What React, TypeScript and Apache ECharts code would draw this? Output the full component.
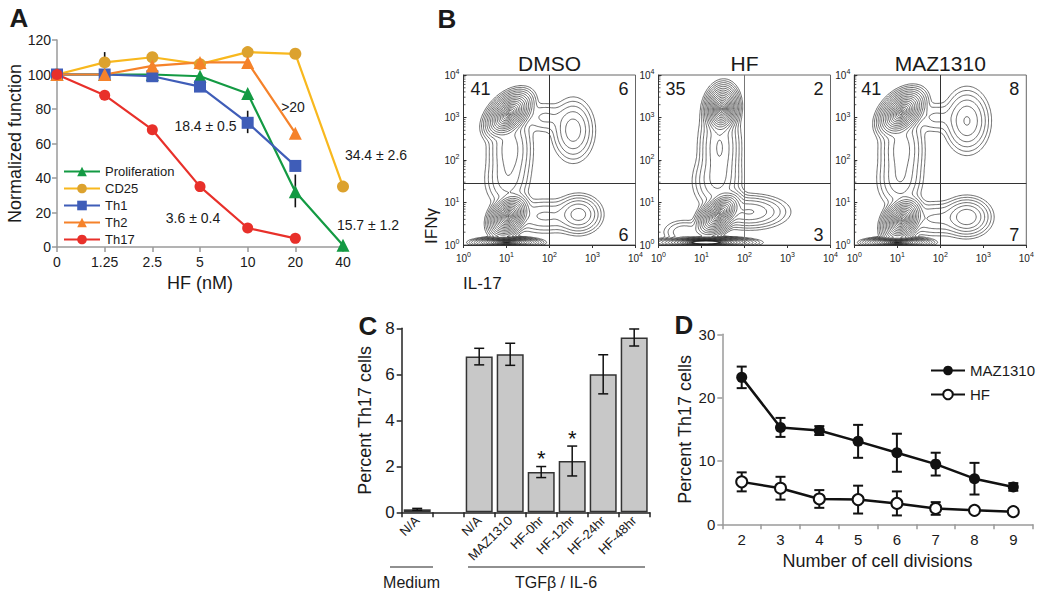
import React, { useEffect, useRef } from 'react';
import * as echarts from 'echarts';

const FONT = '"Liberation Sans", Arial, Helvetica, sans-serif';

// ---------- Panel A ----------
const aDoses = ['0', '1.25', '2.5', '5', '10', '20', '40'];
const aProliferation = [100, 100, 100, 99, 89, 32, 1];
const aCD25 = [100, 107, 110, 106, 113, 112, 35];
const aTh1 = [100, 100, 99, 93, 72, 47, null];
const aTh2 = [100, 100, 105, 107, 107, 66, null];
const aTh17 = [100, 88, 68, 35, 11, 5, null];
// [dose index, low, high]
const aErrors = [[0, 97, 103], [1, 106, 113], [4, 66, 79], [5, 23, 42]];

// ---------- Panel B ----------
const bTitles = ['DMSO', 'HF', 'MAZ1310'];
const bQuadrants = [[41, 6, 6], [35, 2, 3], [41, 8, 7]]; // upper-left, upper-right, lower-right
const bGateIL17 = 100;
const bGateIFNg = 28;
const bMinorMultipliers = [2, 3, 4, 5, 6, 7, 8, 9];
// cell populations: [log10 IL-17, log10 IFNg, spread x, spread y, correlation, relative density]
const bPopDMSO = [
  [1.05, 3.08, 0.18, 0.18, 0.45, 1.0],
  [1.08, 2.25, 0.21, 0.42, 0, 0.03],
  [1.0, 1.5, 0.22, 0.28, 0, 0.012],
  [1.9, 3.0, 0.25, 0.17, 0, 0.006],
  [1.04, 0.68, 0.15, 0.16, 0.3, 1.0],
  [1.9, 0.68, 0.38, 0.18, 0, 0.012],
  [2.68, 0.72, 0.21, 0.18, 0, 0.05],
  [2.55, 2.7, 0.2, 0.3, 0, 0.03],
  [1.0, 0.06, 0.25, 0.04, 0, 1.0],
];
const bPopHF = [
  [1.47, 3.2, 0.13, 0.19, 0.1, 1.0],
  [1.42, 2.3, 0.19, 0.45, 0, 0.04],
  [1.35, 1.5, 0.23, 0.28, 0, 0.02],
  [1.4, 0.72, 0.17, 0.17, 0.5, 1.0],
  [2.1, 0.78, 0.36, 0.16, 0, 0.04],
  [0.6, 0.3, 0.22, 0.13, 0, 0.01],
  [1.1, 0.06, 0.35, 0.04, 0, 1.5],
];
const bPopMAZ = [
  [1.1, 3.12, 0.18, 0.18, 0.4, 1.0],
  [1.1, 2.25, 0.21, 0.42, 0, 0.03],
  [1.05, 1.5, 0.22, 0.28, 0, 0.015],
  [1.9, 3.0, 0.25, 0.17, 0, 0.006],
  [1.1, 0.58, 0.15, 0.17, 0.3, 1.0],
  [1.9, 0.62, 0.38, 0.18, 0, 0.012],
  [2.62, 0.66, 0.22, 0.18, 0, 0.06],
  [2.62, 2.92, 0.21, 0.3, 0, 0.04],
  [1.0, 0.06, 0.25, 0.04, 0, 1.0],
];

// ---------- Panel C ----------
const cCategories = ['N/A', '', 'N/A', 'MAZ1310', 'HF-0hr', 'HF-12hr', 'HF-24hr', 'HF-48hr'];
const cValues = [0.13, null, 6.77, 6.87, 1.75, 2.23, 6.0, 7.6];
const cErrors = [0.04, null, 0.36, 0.48, 0.24, 0.65, 0.85, 0.37];
const cSignificant = [false, false, false, false, true, true, false, false];

// ---------- Panel D ----------
const dDivisions = ['2', '3', '4', '5', '6', '7', '8', '9'];
const dMAZ = [23.2, 15.3, 14.8, 13.1, 11.3, 9.5, 7.2, 5.9];
const dMAZErr = [1.7, 1.5, 0.7, 2.6, 3.0, 1.8, 2.5, 0.6];
const dHF = [6.7, 5.7, 4.0, 3.9, 3.3, 2.5, 2.2, 2.0];
const dHFErr = [1.5, 1.8, 1.4, 2.2, 1.9, 1.0, 0.3, 0.2];

const txt = (text: string, x: number, y: number, size: number, extra: any = {}) => ({
  type: 'text',
  x,
  y,
  silent: true,
  ...extra,
  style: {
    text,
    fill: '#1a1a1a',
    font: `${extra.weight || 'normal'} ${size}px ${FONT}`,
    align: extra.align || 'center',
    verticalAlign: 'middle',
  },
});

const errorBar = (cap: number, width: number, withStar = false) => (params: any, api: any) => {
  const x = api.value(0);
  const lo = api.coord([x, api.value(1)]);
  const hi = api.coord([x, api.value(2)]);
  const children: any[] = [
    { type: 'line', shape: { x1: lo[0], y1: lo[1], x2: hi[0], y2: hi[1] }, style: { stroke: '#111', lineWidth: width } },
  ];
  if (cap > 0) {
    children.push({ type: 'line', shape: { x1: hi[0] - cap, y1: hi[1], x2: hi[0] + cap, y2: hi[1] }, style: { stroke: '#111', lineWidth: width } });
    children.push({ type: 'line', shape: { x1: lo[0] - cap, y1: lo[1], x2: lo[0] + cap, y2: lo[1] }, style: { stroke: '#111', lineWidth: width } });
  }
  if (withStar && api.value(3) === 1) {
    children.push({
      type: 'text',
      style: { text: '*', x: hi[0], y: hi[1] - 8, fill: '#111', font: `22px ${FONT}`, align: 'center', verticalAlign: 'middle' },
    });
  }
  return { type: 'group', children };
};

// contour plot of the population densities (marching squares), plus log minor ticks
const contourRender = (pops: number[][]) => (params: any, api: any) => {
  if (params.dataIndex !== 0) return null;
  const p0 = api.coord([1, 1]);
  const p1 = api.coord([10000, 10000]);
  const X = (lx: number) => p0[0] + ((p1[0] - p0[0]) * lx) / 4;
  const Y = (ly: number) => p0[1] + ((p1[1] - p0[1]) * ly) / 4;
  const N = 140;
  const step = 4 / N;
  const f = new Float64Array((N + 1) * (N + 1));
  for (let i = 0; i <= N; i++) {
    for (let j = 0; j <= N; j++) {
      const lx = i * step;
      const ly = j * step;
      let s = 0;
      for (const p of pops) {
        const dx = (lx - p[0]) / p[2];
        const dy = (ly - p[1]) / p[3];
        const r = p[4];
        const q = (dx * dx - 2 * r * dx * dy + dy * dy) / (1 - r * r);
        s += p[5] * Math.exp(-0.5 * q);
      }
      f[i * (N + 1) + j] = s;
    }
  }
  const K = 18;
  const rMax = 3.72;
  let d = '';
  const r1 = (v: number) => Math.round(v * 10) / 10;
  for (let k = 1; k <= K; k++) {
    const rk = rMax * Math.pow(k / K, 1.15);
    const L = Math.exp(-0.5 * rk * rk);
    for (let i = 0; i < N; i++) {
      for (let j = 0; j < N; j++) {
        const a = f[i * (N + 1) + j];
        const b = f[(i + 1) * (N + 1) + j];
        const c = f[(i + 1) * (N + 1) + j + 1];
        const e = f[i * (N + 1) + j + 1];
        const pts: number[][] = [];
        if (a > L !== b > L) pts.push([i + (L - a) / (b - a), j]);
        if (b > L !== c > L) pts.push([i + 1, j + (L - b) / (c - b)]);
        if (c > L !== e > L) pts.push([i + 1 - (L - c) / (e - c), j + 1]);
        if (e > L !== a > L) pts.push([i, j + 1 - (L - e) / (a - e)]);
        for (let m = 0; m + 1 < pts.length; m += 2) {
          d += `M${r1(X(pts[m][0] * step))} ${r1(Y(pts[m][1] * step))}L${r1(X(pts[m + 1][0] * step))} ${r1(Y(pts[m + 1][1] * step))}`;
        }
      }
    }
  }
  let t = '';
  for (let dec = 0; dec < 4; dec++) {
    for (const m of bMinorMultipliers) {
      const lv = dec + Math.log10(m);
      t += `M${r1(X(lv))} ${r1(p0[1])}L${r1(X(lv))} ${r1(p0[1] + 2)}`;
      t += `M${r1(p0[0])} ${r1(Y(lv))}L${r1(p0[0] + 2)} ${r1(Y(lv))}`;
    }
  }
  return {
    type: 'group',
    children: [
      { type: 'path', shape: { pathData: d }, style: { fill: 'none', stroke: '#1e1e1e', lineWidth: 0.65 } },
      { type: 'path', shape: { pathData: t }, style: { fill: 'none', stroke: '#333', lineWidth: 0.8 } },
    ],
  };
};

function buildOption(): any {
  const bLefts = [463.5, 658.5, 854.3];
  const bWidth = 172;
  const logLabel = {
    formatter: (v: number) => `{b|10}{s|${Math.round(Math.log10(v))}}`,
    rich: {
      b: { fontSize: 10, fontFamily: FONT, color: '#222' },
      s: { fontSize: 7, fontFamily: FONT, color: '#222', padding: [0, 0, 7, 0] },
    },
  };

  const grid: any[] = [
    { left: 57, top: 40, width: 286, height: 207 },
    ...bLefts.map((l) => ({ left: l, top: 75, width: bWidth, height: 170, show: true, borderColor: '#666', borderWidth: 1 })),
    { left: 401.7, top: 328.3, width: 248, height: 184 },
    { left: 722.3, top: 334.3, width: 310.4, height: 190 },
  ].map((g) => ({ containLabel: false, outerBoundsMode: 'none', ...g }));

  const nameStyle = { fontSize: 18, color: '#1a1a1a', fontFamily: FONT };

  const xAxis: any[] = [
    {
      gridIndex: 0, type: 'category', data: aDoses, boundaryGap: false,
      axisLine: { lineStyle: { color: '#9a9a9a', width: 1.5 } },
      axisTick: { show: true, length: 5, lineStyle: { color: '#9a9a9a', width: 1.5 } },
      axisLabel: { color: '#1a1a1a', fontSize: 14, fontFamily: FONT, margin: 8 },
      name: 'HF (nM)', nameLocation: 'middle', nameGap: 27, nameTextStyle: nameStyle,
    },
    ...bLefts.map((_, i) => ({
      gridIndex: i + 1, type: 'log', logBase: 10, min: 1, max: 10000,
      axisLine: { show: true, lineStyle: { color: '#333', width: 1 } },
      axisTick: { show: true, length: 3, lineStyle: { color: '#333' } },
      splitLine: { show: false },
      axisLabel: { ...logLabel, margin: 6 },
    })),
    {
      gridIndex: 4, type: 'category', data: cCategories,
      axisLine: { lineStyle: { color: '#222', width: 1.5 } },
      axisTick: { show: true, length: 5, interval: 0, lineStyle: { color: '#222', width: 1.5 } },
      axisLabel: { rotate: 45, interval: 0, fontSize: 13, color: '#1a1a1a', fontFamily: FONT, margin: 6 },
    },
    {
      gridIndex: 5, type: 'category', data: dDivisions,
      axisLine: { lineStyle: { color: '#9a9a9a', width: 1.5 } },
      axisTick: { show: true, length: 5, lineStyle: { color: '#9a9a9a', width: 1.5 } },
      axisLabel: { fontSize: 15, color: '#1a1a1a', fontFamily: FONT, margin: 8 },
      name: 'Number of cell divisions', nameLocation: 'middle', nameGap: 28, nameTextStyle: nameStyle,
    },
  ];

  const yAxis: any[] = [
    {
      gridIndex: 0, type: 'value', min: 0, max: 120, interval: 20,
      axisLine: { show: true, lineStyle: { color: '#9a9a9a', width: 1.5 } },
      axisTick: { show: true, length: 5, lineStyle: { color: '#9a9a9a', width: 1.5 } },
      splitLine: { show: false },
      axisLabel: { color: '#1a1a1a', fontSize: 14, fontFamily: FONT, margin: 6 },
      name: 'Normalized function', nameLocation: 'middle', nameGap: 30, nameRotate: 90, nameTextStyle: nameStyle,
    },
    ...bLefts.map((_, i) => ({
      gridIndex: i + 1, type: 'log', logBase: 10, min: 1, max: 10000,
      axisLine: { show: true, lineStyle: { color: '#333', width: 1 } },
      axisTick: { show: true, inside: true, length: 3, lineStyle: { color: '#333' } },
      splitLine: { show: false },
      axisLabel: { ...logLabel, margin: 4 },
    })),
    {
      gridIndex: 4, type: 'value', min: 0, max: 8, interval: 2,
      axisLine: { show: true, lineStyle: { color: '#222', width: 1.5 } },
      axisTick: { show: true, length: 5, lineStyle: { color: '#222', width: 1.5 } },
      splitLine: { show: false },
      axisLabel: { color: '#1a1a1a', fontSize: 17, fontFamily: FONT, margin: 7 },
      name: 'Percent Th17 cells', nameLocation: 'middle', nameGap: 28, nameRotate: 90, nameTextStyle: nameStyle,
    },
    {
      gridIndex: 5, type: 'value', min: 0, max: 30, interval: 10,
      axisLine: { show: true, lineStyle: { color: '#9a9a9a', width: 1.5 } },
      axisTick: { show: true, length: 5, lineStyle: { color: '#9a9a9a', width: 1.5 } },
      splitLine: { show: false },
      axisLabel: { color: '#1a1a1a', fontSize: 15, fontFamily: FONT, margin: 7 },
      name: 'Percent Th17 cells', nameLocation: 'middle', nameGap: 28, nameRotate: 90, nameTextStyle: nameStyle,
    },
  ];

  const lineA = (name: string, data: any[], color: string, symbol: string, size: number, markColor?: string) => ({
    type: 'line', name, data, xAxisIndex: 0, yAxisIndex: 0, z: 3,
    symbol, symbolSize: size, showSymbol: true,
    lineStyle: { color, width: 2.2 },
    itemStyle: { color: markColor || color },
  });

  const series: any[] = [
    {
      type: 'custom', name: 'errA', xAxisIndex: 0, yAxisIndex: 0, z: 2,
      data: aErrors, encode: { x: 0, y: [1, 2] }, renderItem: errorBar(0, 1.6),
    },
    lineA('Proliferation', aProliferation, '#139a43', 'triangle', 13),
    lineA('CD25', aCD25, '#f8b81e', 'circle', 12, '#dca22e'),
    lineA('Th1', aTh1, '#3f5db8', 'rect', 12),
    lineA('Th2', aTh2, '#f5822a', 'triangle', 13),
    lineA('Th17', aTh17, '#e8302a', 'circle', 11),
  ];

  [bPopDMSO, bPopHF, bPopMAZ].forEach((pops, i) => {
    series.push({
      type: 'custom', name: 'contour' + i, xAxisIndex: i + 1, yAxisIndex: i + 1,
      data: pops.map((p) => [Math.pow(10, p[0]), Math.pow(10, p[1])]),
      encode: { x: 0, y: 1 }, renderItem: contourRender(pops), clip: true,
      markLine: {
        silent: true, symbol: ['none', 'none'], label: { show: false },
        lineStyle: { color: i === 1 ? '#777' : '#333', width: 1, type: 'solid' },
        data: [{ xAxis: bGateIL17 }],
      },
    });
    series.push({
      type: 'custom', name: 'gate' + i, xAxisIndex: i + 1, yAxisIndex: i + 1,
      data: [], renderItem: () => null,
      markLine: {
        silent: true, symbol: ['none', 'none'], label: { show: false },
        lineStyle: { color: '#333', width: 1, type: 'solid' },
        data: [{ yAxis: bGateIFNg }],
      },
    });
  });

  series.push({
    type: 'bar', name: 'cBars', xAxisIndex: 4, yAxisIndex: 4, data: cValues, barWidth: 27,
    itemStyle: { color: '#c8c8c8', borderColor: '#333', borderWidth: 1.5 },
  });
  series.push({
    type: 'custom', name: 'errC', xAxisIndex: 4, yAxisIndex: 4, z: 5,
    data: cValues
      .map((v, i) => (v == null ? null : [i, v - (cErrors[i] as number), v + (cErrors[i] as number), cSignificant[i] ? 1 : 0]))
      .filter((d) => d != null),
    encode: { x: 0, y: [1, 2] }, renderItem: errorBar(5, 1.5, true),
  });

  series.push({
    type: 'custom', name: 'errD', xAxisIndex: 5, yAxisIndex: 5, z: 2,
    data: [
      ...dMAZ.map((v, i) => [i, v - dMAZErr[i], v + dMAZErr[i]]),
      ...dHF.map((v, i) => [i, v - dHFErr[i], v + dHFErr[i]]),
    ],
    encode: { x: 0, y: [1, 2] }, renderItem: errorBar(5, 2),
  });
  series.push({
    type: 'line', name: 'MAZ1310', xAxisIndex: 5, yAxisIndex: 5, data: dMAZ, z: 3,
    symbol: 'circle', symbolSize: 11, lineStyle: { color: '#111', width: 2.5 },
    itemStyle: { color: '#111' },
  });
  series.push({
    type: 'line', name: 'HF', xAxisIndex: 5, yAxisIndex: 5, data: dHF, z: 3,
    symbol: 'circle', symbolSize: 11, lineStyle: { color: '#111', width: 2.5 },
    itemStyle: { color: '#fff', borderColor: '#111', borderWidth: 2 },
  });

  const graphic: any[] = [
    txt('A', 19, 18, 26, { weight: 'bold' }),
    txt('B', 447, 19, 26, { weight: 'bold' }),
    txt('C', 368, 326, 26, { weight: 'bold' }),
    txt('D', 684, 325, 26, { weight: 'bold' }),
    txt('18.4 ± 0.5', 205.5, 126, 14),
    txt('>20', 293, 107, 14),
    txt('34.4 ± 2.6', 376, 155, 14),
    txt('3.6 ± 0.4', 193, 218, 14),
    txt('15.7 ± 1.2', 368, 225, 14),
    txt('IFNγ', 431, 226, 17, { rotation: Math.PI / 2 }),
    txt('IL-17', 463, 283, 17, { align: 'left' }),
    { type: 'line', silent: true, shape: { x1: 390, y1: 567, x2: 433, y2: 567 }, style: { stroke: '#222', lineWidth: 1.2 } },
    { type: 'line', silent: true, shape: { x1: 468, y1: 567, x2: 645, y2: 567 }, style: { stroke: '#222', lineWidth: 1.2 } },
    txt('Medium', 411.5, 582, 16),
    txt('TGFβ / IL-6', 556, 582, 16),
  ];
  bTitles.forEach((t, i) => {
    const l = bLefts[i];
    graphic.push(txt(t, l + bWidth / 2, 63, 21));
    graphic.push(txt(String(bQuadrants[i][0]), l + 7, 89, 18, { align: 'left' }));
    graphic.push(txt(String(bQuadrants[i][1]), l + bWidth - 7, 89, 18, { align: 'right' }));
    graphic.push(txt(String(bQuadrants[i][2]), l + bWidth - 7, 235, 18, { align: 'right' }));
  });

  return {
    animation: false,
    backgroundColor: '#ffffff',
    textStyle: { fontFamily: FONT },
    grid,
    xAxis,
    yAxis,
    legend: [
      {
        left: 58, top: 160, orient: 'vertical', itemWidth: 36, itemHeight: 12, itemGap: 4,
        data: ['Proliferation', 'CD25', 'Th1', 'Th2', 'Th17'],
        textStyle: { fontSize: 13, color: '#1a1a1a', fontFamily: FONT },
      },
      {
        left: 925, top: 358, orient: 'vertical', itemWidth: 34, itemHeight: 12, itemGap: 9,
        data: ['MAZ1310', 'HF'],
        textStyle: { fontSize: 15, color: '#1a1a1a', fontFamily: FONT },
      },
    ],
    series,
    graphic,
  };
}

export default function App() {
  const ref = useRef<HTMLDivElement>(null);
  useEffect(() => {
    document.body.style.margin = '0';
    const chart = echarts.init(ref.current as HTMLDivElement, null, { renderer: 'svg', width: 1050, height: 600 });
    chart.setOption(buildOption());
    return () => chart.dispose();
  }, []);
  return <div ref={ref} style={{ width: 1050, height: 600, background: '#fff' }} />;
}
